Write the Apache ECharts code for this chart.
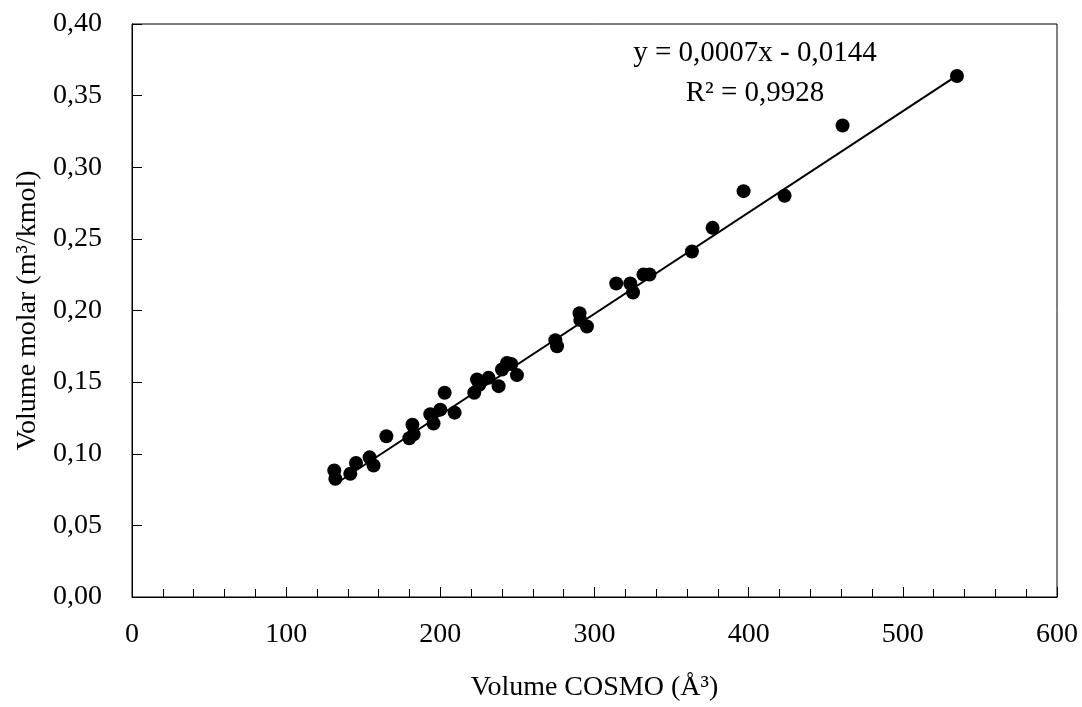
<!DOCTYPE html>
<html>
<head>
<meta charset="utf-8">
<script src="https://cdn.jsdelivr.net/npm/echarts@6/dist/echarts.min.js"></script>
<style>
  html, body { margin: 0; padding: 0; background: #fff; overflow: hidden; }
  #chart { width: 1082px; height: 707px; }
</style>
</head>
<body>
<div id="chart"></div>
<script>
// COSMO volume (Å³) of each compound
const volumeCosmo = [
  131.2, 131.9, 141.6, 145.3, 154.1, 156.7, 165.0, 179.9, 182.7, 181.9,
  193.5, 195.6, 200.0, 202.8, 209.3, 222.0, 223.8, 225.3, 231.3, 237.8,
  240.0, 243.2, 246.0, 249.7, 274.6, 275.7, 290.3, 290.8, 295.1, 314.1,
  323.2, 325.0, 331.8, 335.7, 363.2, 376.6, 396.7, 423.3, 460.9, 535.1
];
// Molar volume (m³/kmol) of the same compounds
const volumeMolar = [
  0.0883, 0.0825, 0.0860, 0.0936, 0.0975, 0.0918, 0.1122, 0.1108, 0.1135, 0.1202,
  0.1276, 0.1211, 0.1308, 0.1426, 0.1287, 0.1426, 0.1518, 0.1481, 0.1530, 0.1472,
  0.1588, 0.1634, 0.1627, 0.1549, 0.1793, 0.1750, 0.1981, 0.1934, 0.1888, 0.2189,
  0.2189, 0.2126, 0.2251, 0.2251, 0.2412, 0.2577, 0.2833, 0.2801, 0.3291, 0.3637
];
// Linear trend: y = 0,0007x - 0,0144 ; R² = 0,9928
const trendSlope = 0.000707;
const trendIntercept = -0.0144;
const trendLabel = ['y = 0,0007x - 0,0144', 'R² = 0,9928'];

const xTitle = 'Volume COSMO (Å³)';
const yTitle = 'Volume molar (m³/kmol)';

const points = volumeCosmo.map((x, i) => [x, volumeMolar[i]]);
const xMin = Math.min(...volumeCosmo);
const xMax = Math.max(...volumeCosmo);
const trend = [xMin, xMax].map(x => [x, trendSlope * x + trendIntercept]);

const FONT = '"Liberation Serif", "Times New Roman", serif';
const chart = echarts.init(document.getElementById('chart'), null, {
  renderer: 'canvas', width: 1082, height: 707
});

chart.setOption({
  backgroundColor: '#ffffff',
  animation: false,
  textStyle: { fontFamily: FONT, color: '#000' },
  grid: {
    left: 132, top: 24, width: 925, height: 577,
    show: true, borderColor: '#000', borderWidth: 1, backgroundColor: 'transparent'
  },
  xAxis: {
    type: 'value', min: 0, max: 600, interval: 100,
    name: xTitle, nameLocation: 'middle', nameGap: 77,
    nameTextStyle: { fontFamily: FONT, fontSize: 28, color: '#000' },
    axisLine: { show: true, onZero: false, lineStyle: { color: '#000', width: 1 } },
    axisTick: { show: true, inside: true, length: 10, lineStyle: { color: '#000' } },
    minorTick: { show: true, splitNumber: 5, length: 8, lineStyle: { color: '#000' } },
    splitLine: { show: false },
    axisLabel: { margin: 24, fontFamily: FONT, fontSize: 28, color: '#000' }
  },
  yAxis: {
    type: 'value', min: 0, max: 0.4, interval: 0.05,
    name: yTitle, nameLocation: 'middle', nameGap: 90, nameRotate: 90,
    nameTextStyle: { fontFamily: FONT, fontSize: 28, color: '#000' },
    axisLine: { show: true, onZero: false, lineStyle: { color: '#000', width: 1 } },
    axisTick: { show: true, inside: true, length: 10, lineStyle: { color: '#000' } },
    splitLine: { show: false },
    axisLabel: {
      margin: 30, fontFamily: FONT, fontSize: 28, color: '#000',
      formatter: v => v.toFixed(2).replace('.', ',')
    }
  },
  series: [
    {
      type: 'line', data: trend, symbol: 'none', silent: true,
      lineStyle: { color: '#000', width: 2 }, z: 2
    },
    {
      type: 'scatter', data: points, symbol: 'circle', symbolSize: 14,
      itemStyle: { color: '#000', opacity: 1 }, z: 3
    }
  ],
  graphic: trendLabel.map((t, i) => ({
    type: 'text', x: 755, y: 53 + i * 40, z: 10,
    style: {
      text: t, align: 'center', verticalAlign: 'middle',
      textAlign: 'center', textVerticalAlign: 'middle',
      font: '29px ' + FONT, fill: '#000'
    }
  }))
});
</script>
</body>
</html>
